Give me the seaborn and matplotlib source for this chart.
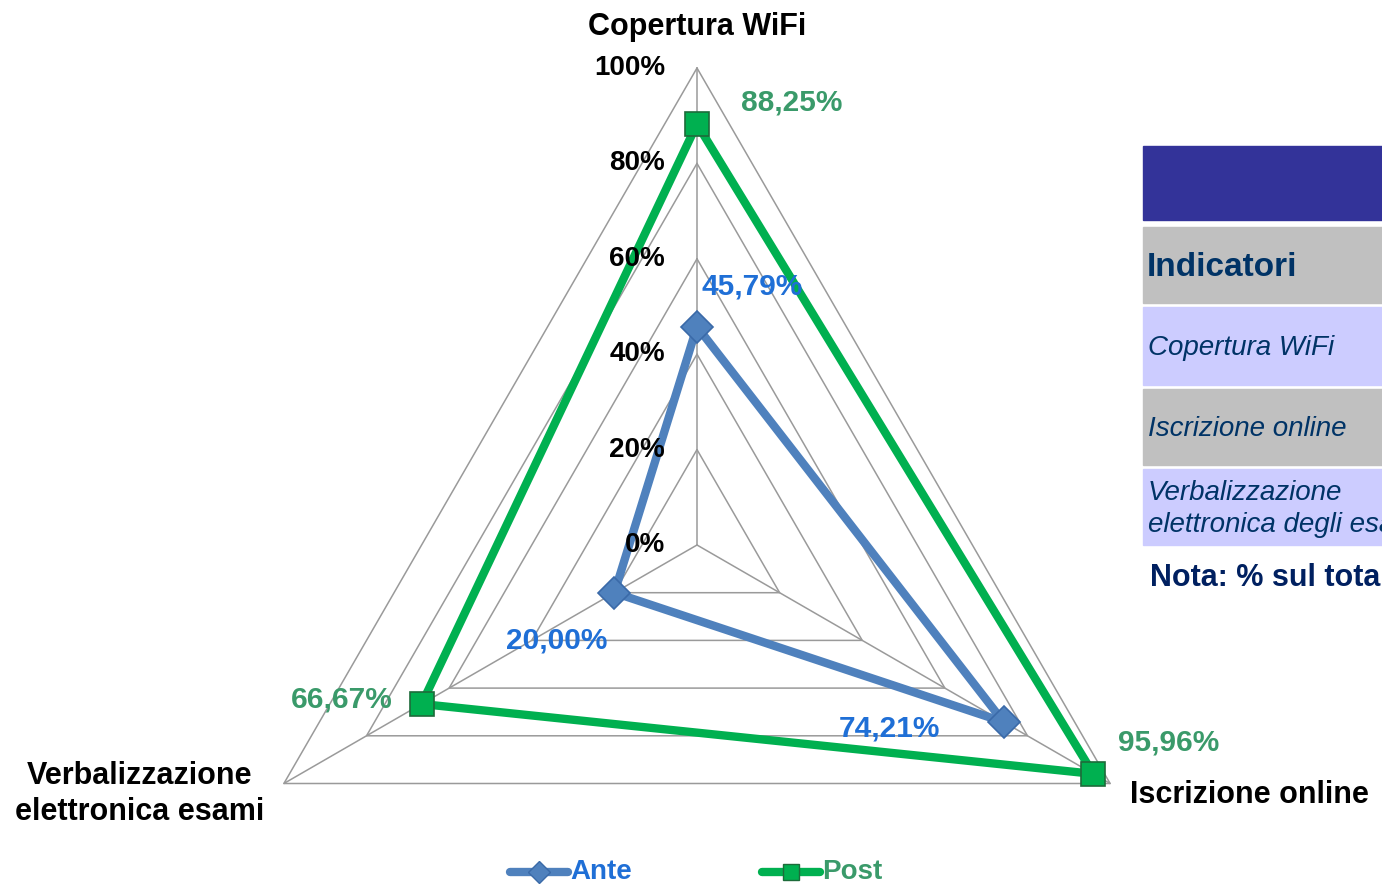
import numpy as np
import pandas as pd
import matplotlib
matplotlib.use("Agg")
import matplotlib.pyplot as plt
import seaborn as sns
from matplotlib.patches import Rectangle

# dati
indicatori = ["Copertura WiFi", "Iscrizione online", "Verbalizzazione\nelettronica esami"]
ante = [45.79, 74.21, 20.00]
post = [88.25, 95.96, 66.67]
tick_vals = [0, 20, 40, 60, 80, 100]
tabella_righe = ["Indicatori", "Copertura WiFi", "Iscrizione online",
                 "Verbalizzazione\nelettronica degli esami"]
nota = "Nota: % sul totale"

sns.set_style("white")
plt.rcParams['font.family'] = ['Liberation Sans', 'DejaVu Sans']
plt.rcParams['text.color'] = 'black'

fig = plt.figure(figsize=(13.82, 8.84), dpi=100)
ax = fig.add_axes([0, 0, 1, 1])
ax.set_xlim(0, 1382)
ax.set_ylim(884, 0)
ax.axis('off')

# geometria del radar (in pixel)
cx, cy, R = 697, 545, 477
angoli = np.deg2rad([90, -30, 210])


def xy(val, ang):
    return cx + R * val / 100 * np.cos(ang), cy - R * val / 100 * np.sin(ang)


# griglia
for t in tick_vals[1:]:
    pts = [xy(t, a) for a in angoli]
    pts.append(pts[0])
    ax.plot([p[0] for p in pts], [p[1] for p in pts], color='#9a9a9a', lw=1.1, zorder=1)
for a in angoli:
    x1, y1 = xy(100, a)
    ax.plot([cx, x1], [cy, y1], color='#9a9a9a', lw=1.1, zorder=1)

for t in tick_vals:
    x, y = xy(t, angoli[0])
    ax.text(x - 32, y, f"{t}%", ha='right', va='center', fontsize=20,
            fontweight='bold', color='black', zorder=6)

# serie
rows = []
for serie, vals in [("Ante", ante), ("Post", post)]:
    for i, v in enumerate(vals + [vals[0]]):
        x, y = xy(v, angoli[i % 3])
        rows.append({"serie": serie, "ordine": i, "x": x, "y": y})
df = pd.DataFrame(rows)

stili = {"Ante": dict(color='#4F81BD', marker='D', ms=16, mec='#3a6aa8'),
         "Post": dict(color='#00B050', marker='s', ms=17, mec='#1d6b3a')}
for serie in ["Ante", "Post"]:
    d = df[df.serie == serie]
    sns.lineplot(data=d, x="x", y="y", sort=False, estimator=None, ax=ax,
                 color=stili[serie]["color"], lw=6,
                 zorder=3 if serie == "Post" else 2, legend=False)
    ax.plot(d.x[:-1], d.y[:-1], ls='none', marker=stili[serie]["marker"],
            ms=stili[serie]["ms"], mfc=stili[serie]["color"], mec=stili[serie]["mec"],
            mew=1.2, zorder=4)

# etichette dei valori
col_ante, col_post = '#1F6FD6', '#3A9A6A'
offs_ante = [(55, -40), (-114, 7), (-58, 48)]
offs_post = [(95, -22), (75, -31), (-80, -5)]
for i in range(3):
    x, y = xy(ante[i], angoli[i])
    ax.text(x + offs_ante[i][0], y + offs_ante[i][1], f"{ante[i]:.2f}%".replace('.', ','),
            ha='center', va='center', fontsize=21.5, fontweight='bold', color=col_ante,
            zorder=6)
    x, y = xy(post[i], angoli[i])
    ax.text(x + offs_post[i][0], y + offs_post[i][1], f"{post[i]:.2f}%".replace('.', ','),
            ha='center', va='center', fontsize=21.5, fontweight='bold', color=col_post,
            zorder=6)

# nomi degli assi
ax.text(697, 27, indicatori[0], ha='center', va='center', fontsize=22, fontweight='bold')
ax.text(1130, 795, indicatori[1], ha='left', va='center', fontsize=22, fontweight='bold')
ax.text(140, 794, indicatori[2], ha='center', va='center', fontsize=22, fontweight='bold',
        linespacing=1.25)

# legenda
for lx, serie, tcol in [(510, "Ante", col_ante), (762, "Post", col_post)]:
    st = stili[serie]
    ax.plot([lx, lx + 58], [872, 872], color=st["color"], lw=6)
    ax.plot([lx + 29], [872], marker=st["marker"], ms=st["ms"] * 0.7, mfc=st["color"],
            mec=st["mec"], mew=1)
    ax.text(lx + 60, 872, serie, ha='left', va='center', fontsize=20, fontweight='bold',
            color=tcol)

# tabella (tagliata al bordo destro come nell'originale)
blu_testo = '#003366'
ax.add_patch(Rectangle((1143, 146), 260, 74, color='#333399', zorder=1))
righe_y = [(227, 303, '#C0C0C0'), (307, 385, '#CCCCFF'), (389, 465, '#C0C0C0'),
           (469, 545, '#CCCCFF')]
for (y0, y1, c), testo in zip(righe_y, tabella_righe):
    ax.add_patch(Rectangle((1143, y0), 260, y1 - y0, color=c, zorder=1))
    if testo == "Indicatori":
        ax.text(1147, (y0 + y1) / 2 + 2, testo, ha='left', va='center', fontsize=24,
                fontweight='bold', color=blu_testo, clip_on=True)
    else:
        ax.text(1148, (y0 + y1) / 2 + 2, testo, ha='left', va='center', fontsize=20,
                style='italic', color=blu_testo, clip_on=True, linespacing=1.25)
ax.text(1150, 578, nota, ha='left', va='center', fontsize=22, fontweight='bold',
        color='#002060', clip_on=True)

fig.savefig("out.png", dpi=100)
